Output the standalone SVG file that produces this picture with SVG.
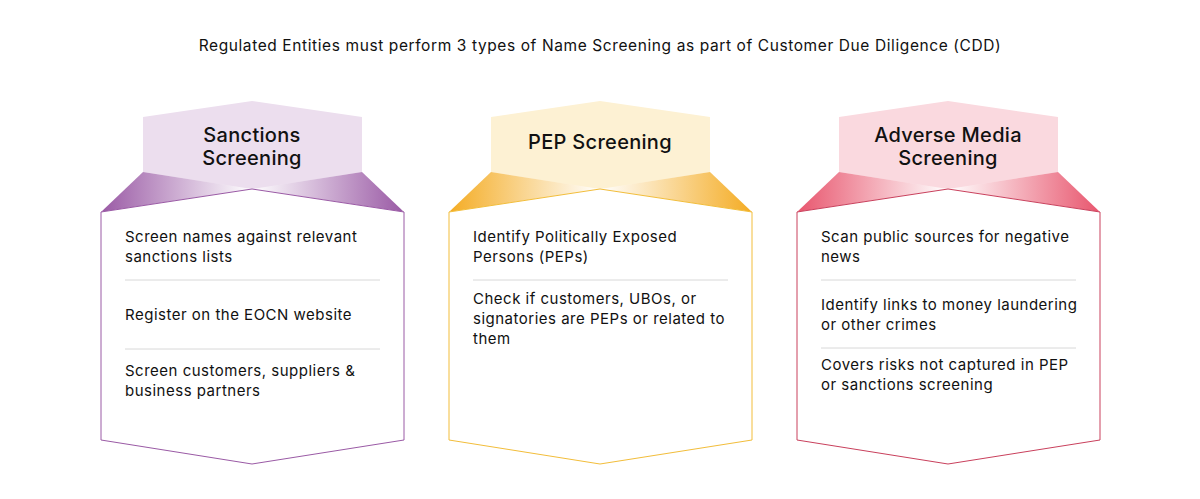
<svg xmlns="http://www.w3.org/2000/svg" width="1200" height="499" viewBox="0 0 1200 499">
<style>
.t{font-family:Inter,"Open Sans",sans-serif;fill:#111}
.h{font-size:20px;text-anchor:middle;font-weight:500;letter-spacing:0.3px}
.b{font-size:15px;letter-spacing:0.5px}
.sep{stroke:#d8d8d8;stroke-width:1}
</style>
<defs>
<linearGradient id="gl1" x1="0" x2="1"><stop offset="0" stop-color="#9a5aa5"/><stop offset="1" stop-color="#9a5aa5" stop-opacity="0"/></linearGradient>
<linearGradient id="gr1" x1="1" x2="0"><stop offset="0" stop-color="#9a5aa5"/><stop offset="1" stop-color="#9a5aa5" stop-opacity="0"/></linearGradient>
<linearGradient id="gl2" x1="0" x2="1"><stop offset="0" stop-color="#f4ac24"/><stop offset="1" stop-color="#f4ac24" stop-opacity="0"/></linearGradient>
<linearGradient id="gr2" x1="1" x2="0"><stop offset="0" stop-color="#f4ac24"/><stop offset="1" stop-color="#f4ac24" stop-opacity="0"/></linearGradient>
<linearGradient id="gl3" x1="0" x2="1"><stop offset="0" stop-color="#e8566e"/><stop offset="1" stop-color="#e8566e" stop-opacity="0"/></linearGradient>
<linearGradient id="gr3" x1="1" x2="0"><stop offset="0" stop-color="#e8566e"/><stop offset="1" stop-color="#e8566e" stop-opacity="0"/></linearGradient>
</defs>
<rect width="1200" height="499" fill="#fff"/>
<text class="t" x="600" y="51" text-anchor="middle" font-size="15.5" letter-spacing="0.6">Regulated Entities must perform 3 types of Name Screening as part of Customer Due Diligence (CDD)</text>

<g id="sanctions">
<polygon points="252,101 362,117 362,172 252,189 143,172 143,117" fill="#ecdeee"/>
<polygon points="143,172 252,189 101,212" fill="url(#gl1)"/>
<polygon points="362,172 252,189 404,212" fill="url(#gr1)"/>
<polygon points="101,212 252,189 404,212 404,440 252,464 101,440" fill="#fff" stroke="#9a5aa5" stroke-width="1"/>
<text class="t h" x="252" y="142">Sanctions</text>
<text class="t h" x="252" y="165">Screening</text>
<text class="t b" x="125" y="242">Screen names against relevant</text>
<text class="t b" x="125" y="262">sanctions lists</text>
<line class="sep" x1="125" y1="280" x2="380" y2="280"/>
<text class="t b" x="125" y="320">Register on the EOCN website</text>
<line class="sep" x1="125" y1="349" x2="380" y2="349"/>
<text class="t b" x="125" y="376">Screen customers, suppliers &amp;</text>
<text class="t b" x="125" y="396">business partners</text>
</g>

<g id="pep">
<polygon points="600,101 710,117 710,172 600,189 491,172 491,117" fill="#fdf1d3"/>
<polygon points="491,172 600,189 449,212" fill="url(#gl2)"/>
<polygon points="710,172 600,189 752,212" fill="url(#gr2)"/>
<polygon points="449,212 600,189 752,212 752,440 600,464 449,440" fill="#fff" stroke="#f2bd3a" stroke-width="1"/>
<text class="t h" x="600" y="149">PEP Screening</text>
<text class="t b" x="473" y="242">Identify Politically Exposed</text>
<text class="t b" x="473" y="262">Persons (PEPs)</text>
<line class="sep" x1="473" y1="280" x2="728" y2="280"/>
<text class="t b" x="473" y="304">Check if customers, UBOs, or</text>
<text class="t b" x="473" y="324">signatories are PEPs or related to</text>
<text class="t b" x="473" y="344">them</text>
</g>

<g id="adverse">
<polygon points="948,101 1058,117 1058,172 948,189 839,172 839,117" fill="#fad9df"/>
<polygon points="839,172 948,189 797,212" fill="url(#gl3)"/>
<polygon points="1058,172 948,189 1100,212" fill="url(#gr3)"/>
<polygon points="797,212 948,189 1100,212 1100,440 948,464 797,440" fill="#fff" stroke="#c9405c" stroke-width="1"/>
<text class="t h" x="948" y="142">Adverse Media</text>
<text class="t h" x="948" y="165">Screening</text>
<text class="t b" x="821" y="242">Scan public sources for negative</text>
<text class="t b" x="821" y="262">news</text>
<line class="sep" x1="821" y1="280" x2="1076" y2="280"/>
<text class="t b" x="821" y="310">Identify links to money laundering</text>
<text class="t b" x="821" y="330">or other crimes</text>
<line class="sep" x1="821" y1="348" x2="1076" y2="348"/>
<text class="t b" x="821" y="370">Covers risks not captured in PEP</text>
<text class="t b" x="821" y="390">or sanctions screening</text>
</g>
<g id="connectors"/>
</svg>
